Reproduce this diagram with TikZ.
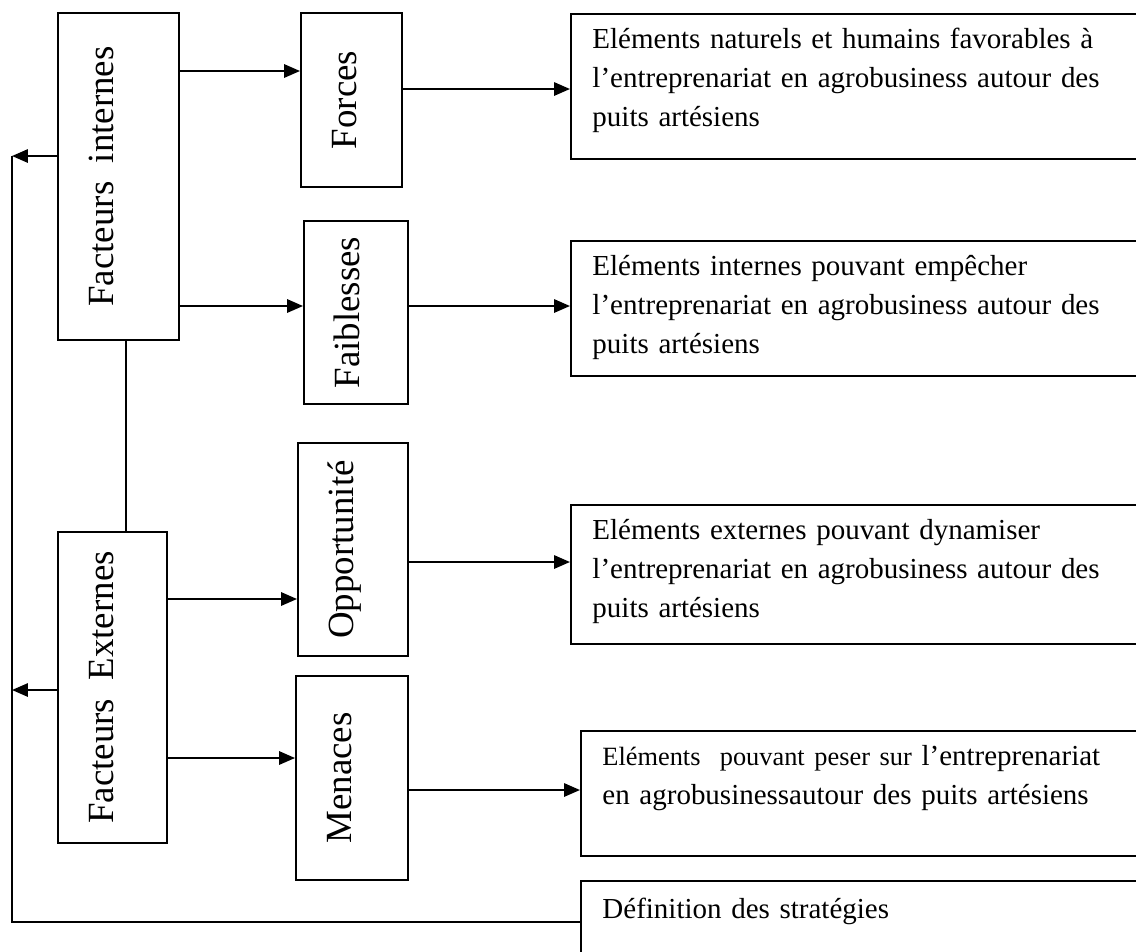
\documentclass[tikz,border=0pt]{standalone}
\usepackage{fontspec}
\setmainfont{Liberation Serif}
\usetikzlibrary{positioning,arrows.meta}

\tikzset{
  side/.style={draw,line width=1.1pt,rotate=90,inner sep=0pt,
    text height=1.1cm,font=\fontsize{21}{25}\selectfont},
  info/.style={draw,line width=1.1pt,anchor=north west,inner xsep=0.43cm,
    inner ysep=0pt,text width=10.8cm,align=left,
    font=\fontsize{16.5}{22.2}\selectfont},
  arr/.style={-{Triangle[length=9pt,width=7.5pt]},line width=1.2pt},
  link/.style={line width=0.8pt}
}

\begin{document}
\begin{tikzpicture}[x=0.02cm,y=-0.02cm]
\useasboundingbox (0,0) rectangle (1136,951);

% rotated boxes: north is their left side, south their right side
\node [side,minimum width=6.54cm,text depth=1.32cm] (fi) at (118.5,176.5) {Facteurs~~internes};
\node [side,minimum width=6.22cm,text depth=1.08cm] (fe) at (112.5,687.5) {Facteurs~~Externes};
\node [side,minimum width=3.48cm,text depth=0.92cm] (forces) at (351.5,100) {Forces};
\node [side,minimum width=3.66cm,text depth=0.98cm] (faib) at (356,312.5) {Faiblesses};
\node [side,minimum width=4.26cm,text depth=1.1cm] (opp) at (353,549.5) {Opportunité};
\node [side,minimum width=4.08cm,text depth=1.14cm] (men) at (352,778) {Menaces};

\node [info,text height=0.7cm,text depth=2.2cm] (forces-info) at (570,13)
  {Eléments naturels et humains favorables à\\ l’entreprenariat en agrobusiness autour des\\ puits artésiens};
\node [info,text height=0.7cm,text depth=2cm] (faib-info) at (570,240)
  {Eléments internes pouvant empêcher\\ l’entreprenariat en agrobusiness autour des\\ puits artésiens};
\node [info,text height=0.7cm,text depth=2.08cm] (opp-info) at (570,504)
  {Eléments externes pouvant dynamiser\\ l’entreprenariat en agrobusiness autour des\\ puits artésiens};
\node [info,text height=0.7cm,text depth=1.8cm] (men-info) at (580,730)
  {{\fontsize{15}{22.2}\selectfont Eléments~~pouvant peser sur} l’entreprenariat\\ en agrobusinessautour des puits artésiens};
\node [info,text height=0.76cm,text depth=2cm] (defn) at (580,880) {Définition des stratégies};

\draw [arr] (fi.south |- 0,71) -- (forces.north |- 0,71);
\draw [arr] (fi.south |- 0,306) -- (faib.north |- 0,306);
\draw [arr] (fe.south |- 0,599) -- (opp.north |- 0,599);
\draw [arr] (fe.south |- 0,758) -- (men.north |- 0,758);

\draw [arr] (forces.south |- 0,89) -- (forces-info.west |- 0,89);
\draw [arr] (faib.south |- 0,306) -- (faib-info.west |- 0,306);
\draw [arr] (opp.south |- 0,562) -- (opp-info.west |- 0,562);
\draw [arr] (men.south |- 0,790) -- (men-info.west |- 0,790);

\draw [link] (fi.west -| 126,0) -- (fe.east -| 126,0);

% loop back from the strategies
\coordinate (back) at (12,922);
\draw [link] (defn.west |- back) -- (back) -- (back |- 0,156);
\draw [arr] (fi.north |- 0,156) -- (back |- 0,156);
\draw [arr] (fe.north |- 0,690) -- (back |- 0,690);
\end{tikzpicture}
\end{document}
